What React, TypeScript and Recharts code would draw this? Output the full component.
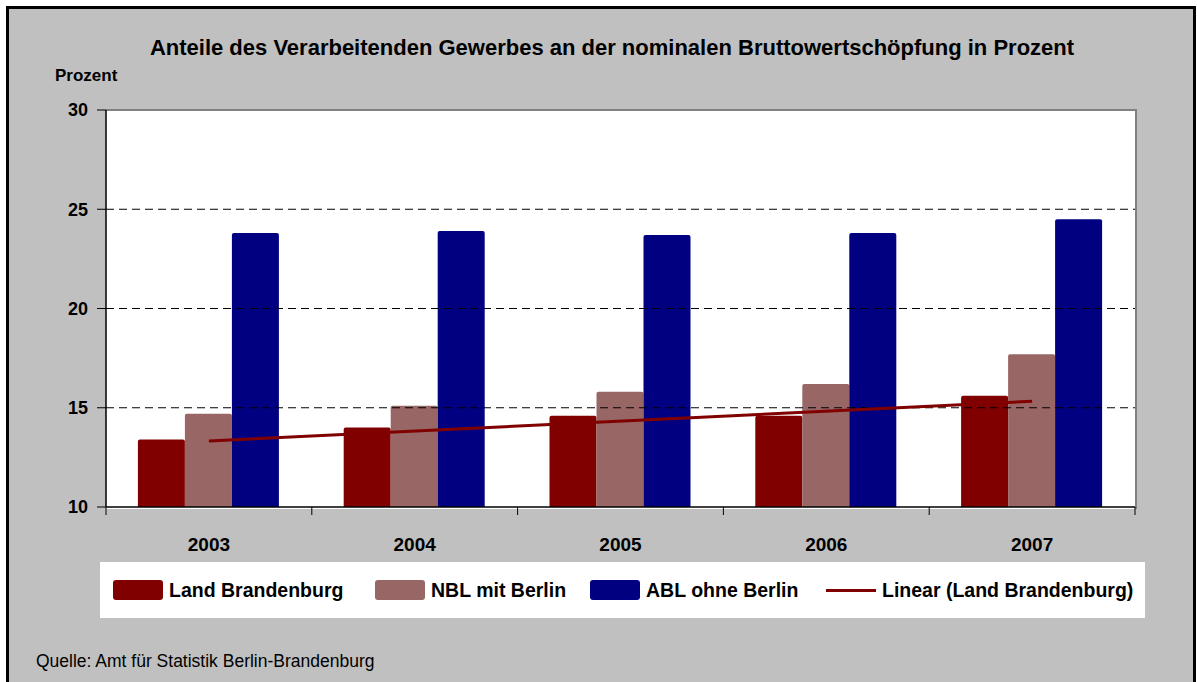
import React from 'react';
import { ComposedChart, Bar, XAxis, YAxis, ReferenceLine } from 'recharts';

const years = ['2003', '2004', '2005', '2006', '2007'];
const landBrandenburg = [13.4, 14.0, 14.6, 14.6, 15.6];
const nblMitBerlin = [14.7, 15.1, 15.8, 16.2, 17.7];
const ablOhneBerlin = [23.8, 23.9, 23.7, 23.8, 24.5];
// Linear trend (Land Brandenburg) at first and last year
const trendStart = 13.33;
const trendEnd = 15.33;
const yTicks = [10, 15, 20, 25, 30];
const gridLines = [15, 20, 25];

const data = years.map((year, i) => ({
    year,
    lb: landBrandenburg[i],
    nbl: nblMitBerlin[i],
    abl: ablOhneBerlin[i],
}));

const FONT = '"Liberation Sans", Arial, sans-serif';
const W = 1197;
const H = 682;
const PLOT_LEFT = 106;
const PLOT_TOP = 110;
const PLOT_W = 1029;
const PLOT_H = 397;

const YearTick = (props: any) => {
    const { x, y, payload, index } = props;
    const half = PLOT_W / years.length / 2;
    return (
        <g>
            <line x1={x - half} x2={x - half} y1={y} y2={y + 8} stroke="#000" strokeWidth={1} />
            {index === years.length - 1 && (
                <line x1={x + half} x2={x + half} y1={y} y2={y + 8} stroke="#000" strokeWidth={1} />
            )}
            <text x={x} y={y + 44} textAnchor="middle" fontSize={19} fontWeight="bold" fill="#000" fontFamily={FONT}>
                {payload.value}
            </text>
        </g>
    );
};

const legendItems = [
    { label: 'Land Brandenburg', color: '#800000', type: 'box', left: 113 },
    { label: 'NBL mit Berlin', color: '#996666', type: 'box', left: 375 },
    { label: 'ABL ohne Berlin', color: '#000080', type: 'box', left: 590 },
    { label: 'Linear (Land Brandenburg)', color: '#800000', type: 'line', left: 826 },
];

export default function App() {
    return (
        <div style={{ position: 'absolute', left: 0, top: 0, width: W, height: H, overflow: 'hidden', background: '#fff', fontFamily: FONT }}>
            <div style={{ position: 'absolute', left: 6, top: 6, width: W - 7, height: H + 20, border: '3px solid #000', background: '#c0c0c0', boxSizing: 'border-box' }} />
            <div style={{ position: 'absolute', left: 0, width: 1224, top: 36, textAlign: 'center', fontSize: 22, fontWeight: 'bold', lineHeight: '24px' }}>
                Anteile des Verarbeitenden Gewerbes an der nominalen Bruttowertschöpfung in Prozent
            </div>
            <div style={{ position: 'absolute', left: 55, top: 66, fontSize: 17, fontWeight: 'bold', lineHeight: '20px' }}>Prozent</div>
            <div style={{ position: 'absolute', left: PLOT_LEFT, top: PLOT_TOP - 1, width: PLOT_W, height: PLOT_H + 1, background: '#fff', borderTop: '2px solid #808080', borderRight: '2px solid #808080', boxSizing: 'content-box' }} />
            <div style={{ position: 'absolute', left: 0, top: 0 }}>
                <ComposedChart
                    width={W}
                    height={H}
                    data={data}
                    margin={{ top: PLOT_TOP, right: W - PLOT_LEFT - PLOT_W, bottom: H - PLOT_TOP - PLOT_H - 30, left: PLOT_LEFT - 60 }}
                    barCategoryGap="15.5%"
                    barGap={0}
                    style={{ fontFamily: FONT }}
                >
                    {gridLines.map((v) => (
                        <ReferenceLine key={v} y={v} stroke="#000" strokeDasharray="8 5" strokeWidth={1} />
                    ))}
                    <XAxis
                        dataKey="year"
                        height={30}
                        axisLine={{ stroke: '#000', strokeWidth: 1.5 }}
                        tickLine={false}
                        tickSize={0}
                        tickMargin={0}
                        tick={<YearTick />}
                        interval={0}
                    />
                    <YAxis
                        width={60}
                        domain={[10, 30]}
                        ticks={yTicks}
                        allowDataOverflow
                        axisLine={{ stroke: '#000', strokeWidth: 1.5 }}
                        tickLine={{ stroke: '#000' }}
                        tickSize={9}
                        tickMargin={9}
                        tick={{ fill: '#000', fontSize: 18, fontWeight: 'bold' }}
                    />
                    <Bar dataKey="lb" name="Land Brandenburg" fill="#800000" radius={[2, 2, 0, 0]} isAnimationActive={false} />
                    <Bar dataKey="nbl" name="NBL mit Berlin" fill="#996666" radius={[2, 2, 0, 0]} isAnimationActive={false} />
                    <Bar dataKey="abl" name="ABL ohne Berlin" fill="#000080" radius={[2, 2, 0, 0]} isAnimationActive={false} />
                    <ReferenceLine
                        segment={[
                            { x: years[0], y: trendStart },
                            { x: years[years.length - 1], y: trendEnd },
                        ]}
                        stroke="#800000"
                        strokeWidth={3}
                    />
                </ComposedChart>
            </div>
            <div style={{ position: 'absolute', left: 100, top: 562, width: 1045, height: 56, background: '#fff' }}>
                {legendItems.map((it) => (
                    <div key={it.label} style={{ position: 'absolute', left: it.left - 100, top: 0, height: 56, display: 'flex', alignItems: 'center', whiteSpace: 'nowrap' }}>
                        {it.type === 'box' ? (
                            <div style={{ width: 50, height: 20, background: it.color, borderRadius: 3, marginRight: 6 }} />
                        ) : (
                            <div style={{ width: 50, height: 3, background: it.color, marginRight: 6 }} />
                        )}
                        <span style={{ fontSize: 19.5, fontWeight: 'bold', lineHeight: '24px' }}>{it.label}</span>
                    </div>
                ))}
            </div>
            <div style={{ position: 'absolute', left: 36, top: 652, fontSize: 17.5, lineHeight: '18px' }}>
                Quelle: Amt für Statistik Berlin-Brandenburg
            </div>
        </div>
    );
}
